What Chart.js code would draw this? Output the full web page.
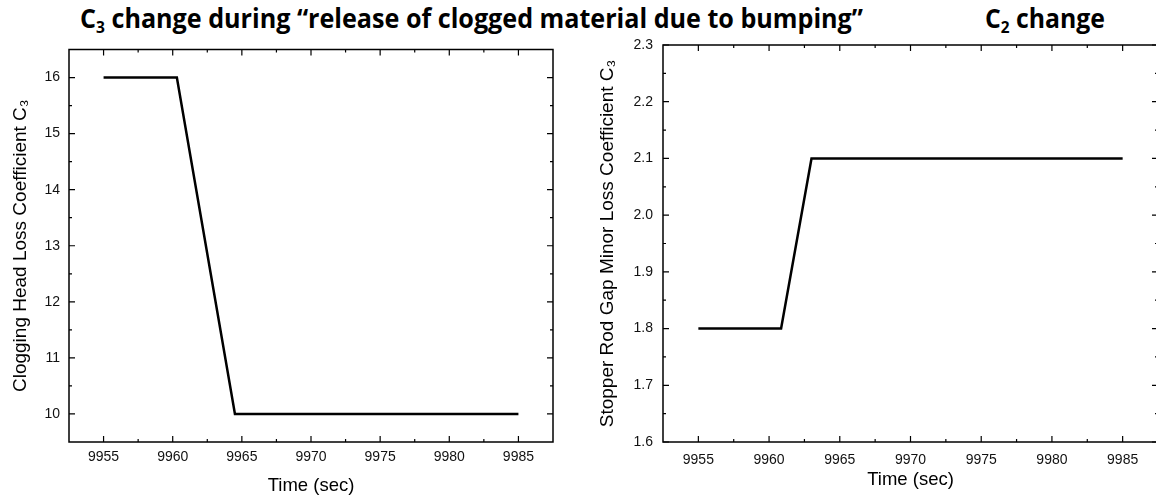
<!DOCTYPE html>
<html>
<head>
<meta charset="utf-8">
<script src="https://cdn.jsdelivr.net/npm/chart.js@4"></script>
<style>
    html, body { margin: 0; padding: 0; background: #fff; }
    body { width: 1156px; height: 498px; overflow: hidden; position: relative; }
    .box { position: absolute; top: 0; height: 498px; }
    #left-box { left: 0; width: 575px; }
    #right-box { left: 580px; width: 580px; }
    .title {
        position: absolute; top: 2px; white-space: nowrap; color: #000;
        font-family: "Open Sans", sans-serif; font-weight: 700; font-size: 26px; line-height: 32px;
        transform-origin: 0 0;
    }
    .title sub { font-size: 0.62em; vertical-align: -0.3em; line-height: 0; }
</style>
</head>
<body>
<div class="title" data-width="783" style="left:80px">C<sub>3</sub> change during “release of clogged material due to bumping”</div>
<div class="title" data-width="120" style="left:985px">C<sub>2</sub> change</div>
<div class="box" id="left-box"><canvas id="left-chart"></canvas></div>
<div class="box" id="right-box"><canvas id="right-chart"></canvas></div>
<script>
// data
const c3Time = [9955, 9960.3, 9964.5, 9985];
const c3Values = [16, 16, 10, 10];
const c2Time = [9955, 9960.85, 9963, 9985];
const c2Values = [1.8, 1.8, 2.1, 2.1];

// axes
const timeTicks = [9955, 9960, 9965, 9970, 9975, 9980, 9985];
const timeMinor = [9957.5, 9962.5, 9967.5, 9972.5, 9977.5, 9982.5];
const c3Ticks = [10, 11, 12, 13, 14, 15, 16];
const c3Minor = [10.5, 11.5, 12.5, 13.5, 14.5, 15.5];
const c2Ticks = [1.6, 1.7, 1.8, 1.9, 2.0, 2.1, 2.2, 2.3];
const c2Minor = [1.65, 1.75, 1.85, 1.95, 2.05, 2.15, 2.25];

const axisFont = "'Liberation Sans', Arial, sans-serif";

// squeeze the titles to the width they have in the picture
document.querySelectorAll(".title").forEach((el) => {
    const w = el.getBoundingClientRect().width;
    el.style.transform = `scaleX(${el.dataset.width / w})`;
});

// frame round the plot plus inward tick marks on all four sides
const boxTicks = {
    id: 'boxTicks',
    afterDraw(chart, args, opts) {
        const { ctx, chartArea: a, scales: { x, y } } = chart;
        ctx.save();
        ctx.strokeStyle = '#000';
        ctx.lineWidth = 1.5;
        ctx.strokeRect(a.left, a.top, a.right - a.left, a.bottom - a.top);
        ctx.lineWidth = 1.2;
        ctx.beginPath();
        const xMarks = (vals, len) => vals.forEach((v) => {
            const px = x.getPixelForValue(v);
            ctx.moveTo(px, a.bottom); ctx.lineTo(px, a.bottom - len);
            ctx.moveTo(px, a.top); ctx.lineTo(px, a.top + len);
        });
        const yMarks = (vals, len) => vals.forEach((v) => {
            const py = y.getPixelForValue(v);
            ctx.moveTo(a.left, py); ctx.lineTo(a.left + len, py);
            ctx.moveTo(a.right, py); ctx.lineTo(a.right - len, py);
        });
        xMarks(opts.xMajor, 6);
        xMarks(opts.xMinor, 3);
        yMarks(opts.yMajor, 6);
        yMarks(opts.yMinor, 3);
        ctx.stroke();
        ctx.restore();
    }
};

const makeChart = (id, c) => new Chart(document.getElementById(id), {
    type: 'line',
    data: {
        datasets: [{
            data: c.time.map((t, i) => ({ x: t, y: c.values[i] })),
            borderColor: '#000',
            borderWidth: 2.5,
            pointRadius: 0,
            tension: 0,
            fill: false
        }]
    },
    options: {
        responsive: true,
        maintainAspectRatio: false,
        animation: false,
        layout: { padding: { top: c.top, right: c.right, left: 0, bottom: 0 } },
        plugins: {
            legend: { display: false },
            tooltip: { enabled: false },
            boxTicks: { xMajor: timeTicks, xMinor: timeMinor, yMajor: c.yTicks, yMinor: c.yMinor }
        },
        scales: {
            x: {
                type: 'linear',
                min: 9952.5,
                max: 9987.5,
                afterBuildTicks: (s) => { s.ticks = timeTicks.map((v) => ({ value: v })); },
                afterFit: (s) => { s.height = c.xHeight; },
                grid: { display: false, drawTicks: false },
                border: { display: false },
                ticks: {
                    padding: c.xPad,
                    color: '#111',
                    font: { family: axisFont, size: 14 },
                    callback: (v) => String(v)
                },
                title: {
                    display: true,
                    text: 'Time (sec)',
                    color: '#000',
                    font: { family: axisFont, size: 18.5 },
                    padding: { top: 0, bottom: c.xTitlePad }
                }
            },
            y: {
                type: 'linear',
                min: c.yMin,
                max: c.yMax,
                afterBuildTicks: (s) => { s.ticks = c.yTicks.map((v) => ({ value: v })); },
                afterFit: (s) => { s.width = c.yWidth; },
                grid: { display: false, drawTicks: false },
                border: { display: false },
                ticks: {
                    padding: c.yPad,
                    color: '#111',
                    font: { family: axisFont, size: 14 },
                    callback: c.fmt
                },
                title: {
                    display: true,
                    text: c.yTitle,
                    color: '#000',
                    font: { family: axisFont, size: 19 },
                    padding: { top: c.yTitlePad, bottom: 0 }
                }
            }
        }
    },
    plugins: [boxTicks]
});

makeChart('left-chart', {
    time: c3Time, values: c3Values,
    yMin: 9.5, yMax: 16.5, yTicks: c3Ticks, yMinor: c3Minor,
    fmt: (v) => String(v),
    yTitle: 'Clogging Head Loss Coefficient C₃',
    top: 49.5, right: 22, xHeight: 56, yWidth: 69,
    xPad: 7, yPad: 9, xTitlePad: 1, yTitlePad: 9
});

makeChart('right-chart', {
    time: c2Time, values: c2Values,
    yMin: 1.6, yMax: 2.3, yTicks: c2Ticks, yMinor: c2Minor,
    fmt: (v) => v.toFixed(1),
    yTitle: 'Stopper Rod Gap Minor Loss Coefficient C₃',
    top: 45, right: 2, xHeight: 56, yWidth: 83,
    xPad: 10, yPad: 10, xTitlePad: 7, yTitlePad: 16
});
</script>
</body>
</html>
